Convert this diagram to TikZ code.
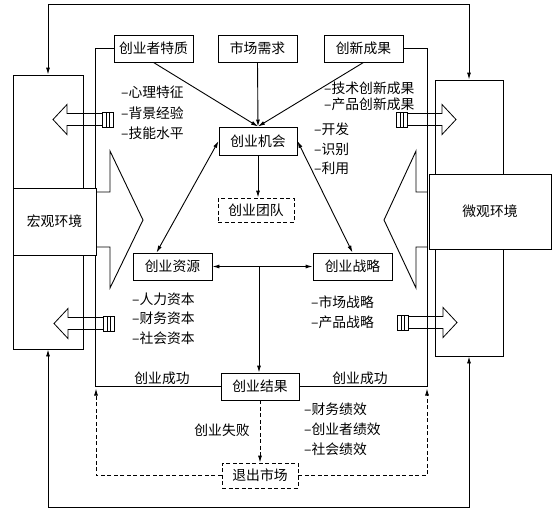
\documentclass[tikz,border=0pt]{standalone}
\usepackage{fontspec}
\setmainfont{Noto Sans CJK SC}
\usetikzlibrary{arrows.meta,calc}
\begin{document}
\begin{tikzpicture}[x=1pt,y=-1pt,
  ln/.style={line width=0.9pt},
  txt/.style={inner sep=0pt,font=\fontsize{13.8}{15}\selectfont},
  box/.style={draw,ln,fill=white,inner sep=0pt,minimum width=79pt,minimum height=27pt,txt},
  dsh/.style={dash pattern=on 4pt off 2.5pt},
  dbox/.style={box,dsh},
  item/.style={txt,anchor=west},
  arr/.style={ln,-{Latex[length=7pt,width=4pt]}},
  darr/.style={ln,{Latex[length=7pt,width=4pt]}-{Latex[length=7pt,width=4pt]}},
  plugarrow/.pic={
    \draw[line width=0.8pt] (-11,-7.5) rectangle (0,7.5) (-7,-7.5)--(-7,7.5) (-4,-7.5)--(-4,7.5);
    \draw[line width=0.8pt] (-11,-6) -- (-46,-6) -- (-46,-15) -- (-60,0) -- (-46,15) -- (-46,6) -- (-11,6);
  }
]
\useasboundingbox (0,0) rectangle (553,512);

% tall environment rectangles
\node[draw,ln,minimum width=70pt,minimum height=274pt,inner sep=0pt] (lt) at (48,212) {};
\node[draw,ln,minimum width=68pt,minimum height=276pt,inner sep=0pt] (rt) at (469,218) {};

% outer loops
\draw[darr] (lt.north) -- (lt.north |- 0,4) -| (rt.north);
\draw[darr] (lt.south) -- (lt.south |- 0,507) -| (rt.south);

% top boxes
\node[box] (trait) at (153.5,48.5) {创业者特质};
\node[box] (market) at (257.5,48.5) {市场需求};
\node[box] (innov) at (363.5,48.5) {创新成果};

% center boxes
\node[box,minimum width=78pt,minimum height=28pt] (opp) at (258,141) {创业机会};
\node[dbox,minimum width=76pt,minimum height=24pt] (team) at (256,210) {创业团队};
\node[box] (res) at (172.5,266.5) {创业资源};
\node[box] (str) at (352.5,266.5) {创业战略};
\node[box,minimum width=78pt] (result) at (260,386.5) {创业结果};
\node[dbox,minimum width=76pt,minimum height=25pt] (exit) at (260,475.5) {退出市场};

% frame lines
\draw[ln] (trait.west) -- ++(-18,0) |- (result.west);
\draw[ln] (innov.east) -- ++(24,0) |- (result.east);
\coordinate (lf) at (96,387);
\coordinate (rf) at (427,387);

% environment boxes
\node[draw,ln,fill=white,minimum width=83pt,minimum height=67pt,inner sep=0pt,txt] (macro) at (54.5,221.5) {宏观环境};
\node[draw,ln,fill=white,minimum width=122pt,minimum height=75pt,inner sep=0pt,txt] (micro) at (490,211.5) {微观环境};

% big chevron arrows
\draw[ln] (96,192) -- (110,192) -- (110,151) -- (143,220) -- (110,288) -- (110,247) -- (96,247);
\draw[ln] (427,192) -- (416,192) -- (416,151) -- (384,220) -- (416,288) -- (416,247) -- (427,247);

% small block arrows
\pic at (113,119.5) {plugarrow};
\pic at (114,323.5) {plugarrow};
\pic[xscale=-1] at (396,119.5) {plugarrow};
\pic[xscale=-1] at (397,322.5) {plugarrow};

% connectors
\draw[arr] (trait.south) -- (opp.north);
\draw[arr] (market.south) -- (opp.north);
\draw[arr] (innov.south) -- (opp.north);
\draw[arr] (opp.south) -- (opp.south |- team.north);
\draw[darr] (opp.west) -- ($(res.north west)!0.3!(res.north east)$);
\draw[darr] (opp.east) -- (str.north);
\draw[darr] (res.east) -- (str.west);
\coordinate (mid) at (259,266.5);
\draw[arr] (mid) -- (mid |- result.north);
\draw[arr,dsh] (result.south) -- (exit.north);
\draw[arr,dsh,shorten >=1.5pt] (exit.west) -| (lf);
\draw[arr,dsh,shorten >=1.5pt] (exit.east) -| (rf);

% labels
\node[txt] (succL) at (162,378) {创业成功};
\node[txt] (succR) at (360,378) {创业成功};
\node[txt] (fail) at (222,430) {创业失败};

\node[item] (t1) at (121,92) {–心理特征};
\node[item] (t2) at (121,113) {–背景经验};
\node[item] (t3) at (121,133) {–技能水平};

\node[item] (i1) at (324,88) {–技术创新成果};
\node[item] (i2) at (324,104) {–产品创新成果};

\node[item] (o1) at (314,129) {–开发};
\node[item] (o2) at (314,149) {–识别};
\node[item] (o3) at (314,168) {–利用};

\node[item] (r1) at (132,299) {–人力资本};
\node[item] (r2) at (132,318) {–财务资本};
\node[item] (r3) at (132,338) {–社会资本};

\node[item] (s1) at (311,302) {–市场战略};
\node[item] (s2) at (311,322) {–产品战略};

\node[item] (p1) at (304,409) {–财务绩效};
\node[item] (p2) at (304,429) {–创业者绩效};
\node[item] (p3) at (304,449) {–社会绩效};
\end{tikzpicture}
\end{document}
